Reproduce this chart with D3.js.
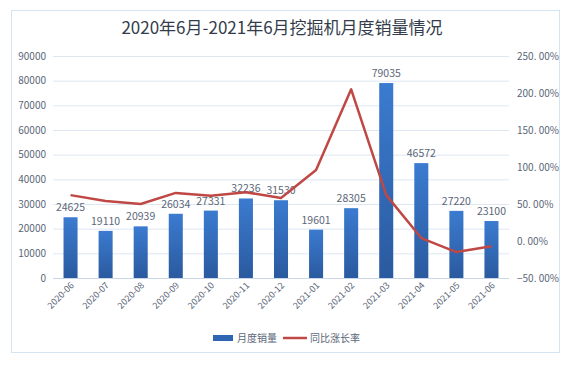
<!DOCTYPE html>
<html>
<head>
<meta charset="utf-8">
<script src="https://cdn.jsdelivr.net/npm/d3@7"></script>
<style>
  body { margin: 0; background: #fff; }
  svg { display: block; font-family: "Noto Sans CJK SC", "Liberation Sans", sans-serif; }
</style>
</head>
<body>
<svg id="chart" width="568" height="367"></svg>
<script>
// Data
const months = ['2020-06', '2020-07', '2020-08', '2020-09', '2020-10', '2020-11', '2020-12',
  '2021-01', '2021-02', '2021-03', '2021-04', '2021-05', '2021-06'];
const sales = [24625, 19110, 20939, 26034, 27331, 32236, 31530, 19601, 28305, 79035, 46572, 27220, 23100];
const growth = [62, 54, 50, 65, 61, 66, 58, 96, 205, 62, 4, -15, -7];
const leftTicks = [0, 10000, 20000, 30000, 40000, 50000, 60000, 70000, 80000, 90000];
const rightTicks = [-50, 0, 50, 100, 150, 200, 250];

const svg = d3.select('#chart');
const margin = { top: 56, right: 58, bottom: 89, left: 53 };
const width = 568, height = 367;

// Frame
svg.append('rect')
  .attr('x', 11.5).attr('y', 10.5)
  .attr('width', 548).attr('height', 342)
  .attr('fill', '#fff')
  .attr('stroke', '#d6e3f0');

// Gradient for bars
const defs = svg.append('defs');
const grad = defs.append('linearGradient')
  .attr('id', 'barGrad')
  .attr('x1', 0).attr('y1', 0).attr('x2', 0).attr('y2', 1);
grad.append('stop').attr('offset', '0%').attr('stop-color', '#3b7bd0');
grad.append('stop').attr('offset', '100%').attr('stop-color', '#2a5a9f');

// Title
svg.append('text')
  .attr('x', width / 2 - 2)
  .attr('y', 34)
  .attr('text-anchor', 'middle')
  .attr('fill', '#333c4a')
  .style('font-size', '17px')
  .text('2020年6月-2021年6月挖掘机月度销量情况');

const x = d3.scaleBand()
  .domain(months)
  .range([53, 509])
  .paddingInner(0.6)
  .paddingOuter(0.3);

const y = d3.scaleLinear()
  .domain([0, 90000])
  .range([278, 56]);

const y2 = d3.scaleLinear()
  .domain([-50, 250])
  .range([278, 56]);

// Gridlines
svg.append('g')
  .selectAll('line')
  .data(leftTicks)
  .join('line')
  .attr('x1', 53).attr('x2', 509)
  .attr('y1', d => y(d) + 0.5).attr('y2', d => y(d) + 0.5)
  .attr('stroke', d => d === 0 ? '#c8d6e6' : '#dde7f2');

// Left axis labels
svg.append('g')
  .attr('fill', '#5b6678')
  .attr('text-anchor', 'end')
  .style('font-size', '10px')
  .selectAll('text')
  .data(leftTicks)
  .join('text')
  .attr('x', 46)
  .attr('y', d => y(d))
  .attr('dy', '0.35em')
  .text(d => d);

// Right axis labels
svg.append('g')
  .attr('fill', '#5b6678')
  .attr('text-anchor', 'start')
  .style('font-size', '10px')
  .selectAll('text')
  .data(rightTicks)
  .join('text')
  .attr('x', 517)
  .attr('y', d => y2(d))
  .attr('dy', '0.35em')
  .text(d => d3.format('.2f')(d).replace('.', '. ') + '%');

// Bars
svg.append('g')
  .attr('fill', 'url(#barGrad)')
  .selectAll('rect')
  .data(sales)
  .join('rect')
  .attr('x', (d, i) => x(months[i]))
  .attr('y', d => y(d))
  .attr('width', x.bandwidth())
  .attr('height', d => y(0) - y(d));

// Bar labels
svg.append('g')
  .attr('fill', '#5b6678')
  .attr('text-anchor', 'middle')
  .style('font-size', '10.5px')
  .selectAll('text')
  .data(sales)
  .join('text')
  .attr('x', (d, i) => x(months[i]) + x.bandwidth() / 2)
  .attr('y', d => y(d) - 6)
  .text(d => d);

// Line
svg.append('path')
  .datum(growth)
  .attr('fill', 'none')
  .attr('stroke', '#bf4845')
  .attr('stroke-width', 2.5)
  .attr('stroke-linejoin', 'round')
  .attr('d', d3.line()
    .x((d, i) => x(months[i]) + x.bandwidth() / 2)
    .y(d => y2(d)));

// X labels rotated
svg.append('g')
  .attr('fill', '#5b6678')
  .attr('text-anchor', 'end')
  .style('font-size', '9px')
  .selectAll('text')
  .data(months)
  .join('text')
  .attr('transform', d => `translate(${x(d) + x.bandwidth() / 2 + 4},${286}) rotate(-45)`)
  .text(d => d);

// Legend
const legend = svg.append('g').attr('transform', 'translate(0,338)');
legend.append('rect')
  .attr('x', 213).attr('y', -3).attr('width', 20).attr('height', 6)
  .attr('fill', '#2f66b3');
legend.append('text')
  .attr('x', 237).attr('y', 0).attr('dy', '0.35em')
  .attr('fill', '#5b6678').style('font-size', '10px')
  .text('月度销量');
legend.append('line')
  .attr('x1', 283).attr('x2', 307).attr('y1', 0).attr('y2', 0)
  .attr('stroke', '#bf4845').attr('stroke-width', 2.5);
legend.append('text')
  .attr('x', 310).attr('y', 0).attr('dy', '0.35em')
  .attr('fill', '#5b6678').style('font-size', '10px')
  .text('同比涨长率');
</script>
</body>
</html>
